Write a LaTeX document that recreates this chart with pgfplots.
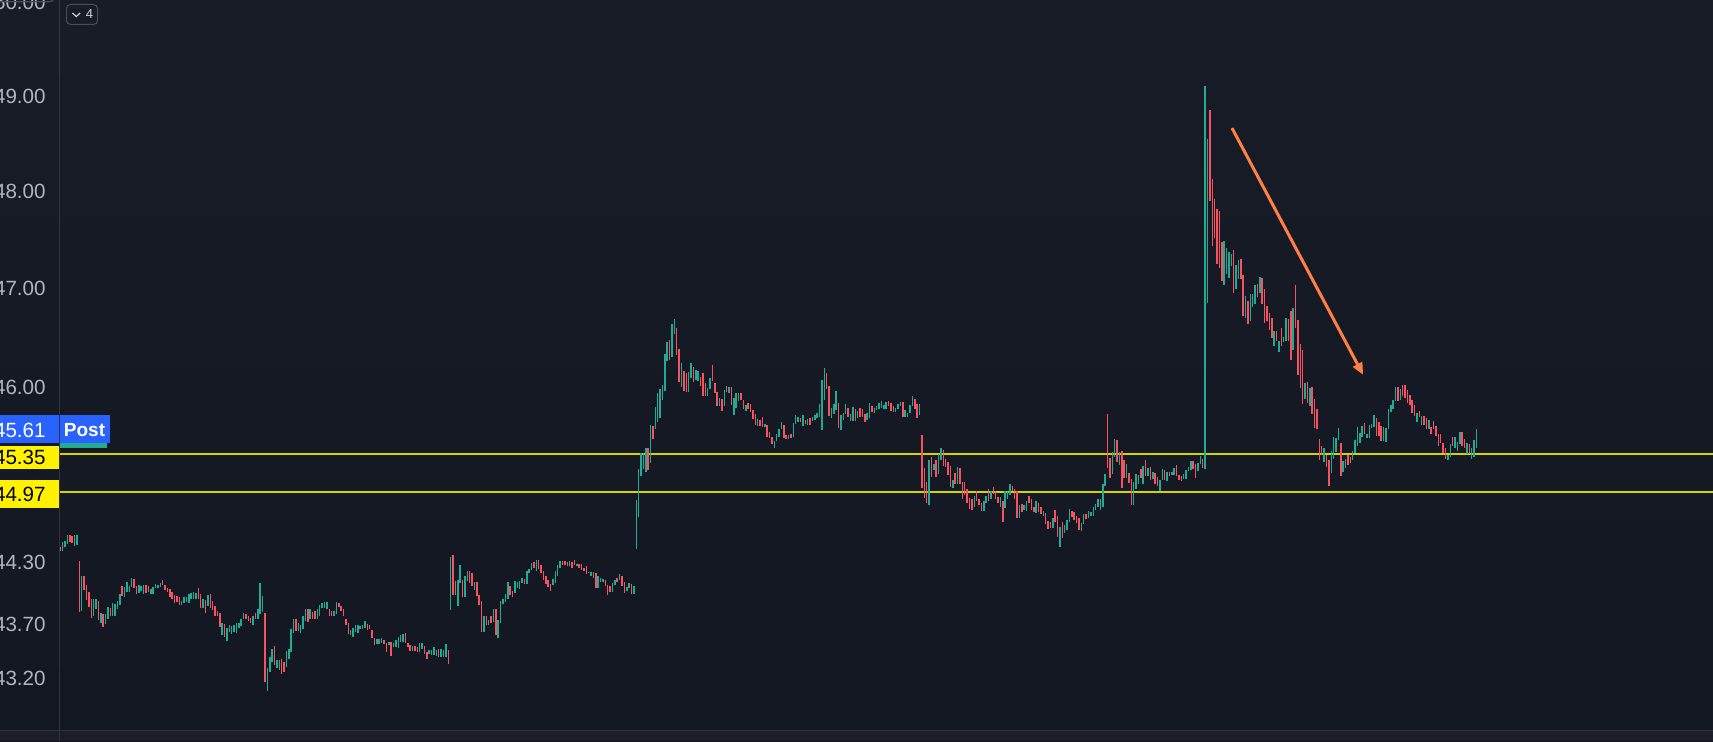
\documentclass[border=0pt]{standalone}
\usepackage{pgfplots}
\pgfplotsset{compat=1.18}
\usepackage{pgfplotstable}
\usepackage{fontspec}
\setmainfont{Liberation Sans}
\usetikzlibrary{arrows.meta}

\definecolor{bgtop}{HTML}{181C27}
\definecolor{bgbot}{HTML}{131722}
\definecolor{strip}{HTML}{1B1E29}
\definecolor{up}{HTML}{22AB94}
\definecolor{dn}{HTML}{F7525F}
\definecolor{axln}{HTML}{30343F}
\definecolor{axln2}{HTML}{4A4E59}
\definecolor{lbl}{HTML}{B2B5BE}
\definecolor{lbl2}{HTML}{D1D4DC}
\definecolor{lvl}{RGB}{212,212,0}
\definecolor{tvblue}{HTML}{2962FF}
\definecolor{arr}{HTML}{FF7F45}
\newcommand\lblfont{\fontsize{10.3}{12}\selectfont}

\pgfplotstableread{
i lo hi c
0 44.40 44.44 0
1 44.40 44.49 1
2 44.44 44.50 1
3 44.47 44.56 1
4 44.49 44.56 0
5 44.48 44.55 0
6 44.45 44.56 1
7 44.46 44.56 1
8 43.82 44.31 0
9 43.83 44.16 1
10 44.03 44.16 0
11 43.94 44.08 0
12 43.87 44.01 0
13 43.77 43.95 0
14 43.79 43.95 1
15 43.85 43.95 1
16 43.75 43.93 0
17 43.72 43.81 1
18 43.68 43.80 0
19 43.71 43.80 1
20 43.76 43.87 1
21 43.78 43.86 0
22 43.78 43.91 1
23 43.78 43.90 1
24 43.85 43.93 1
25 43.89 43.99 1
26 43.97 44.07 0
27 43.96 44.06 1
28 44.01 44.11 1
29 44.01 44.07 1
30 44.06 44.15 1
31 44.05 44.14 0
32 43.99 44.07 0
33 44.00 44.08 1
34 44.02 44.07 1
35 43.99 44.08 1
36 44.00 44.08 0
37 44.01 44.07 0
38 43.99 44.04 1
39 43.99 44.06 1
40 44.05 44.09 1
41 44.05 44.08 1
42 44.06 44.10 1
43 44.08 44.13 0
44 44.03 44.08 0
45 44.01 44.05 0
46 43.96 44.04 0
47 43.95 44.01 0
48 43.91 43.98 0
49 43.92 43.97 0
50 43.89 43.96 0
51 43.89 43.93 1
52 43.91 43.96 1
53 43.92 43.96 1
54 43.91 43.99 1
55 43.95 44.00 1
56 43.95 44.01 1
57 43.95 44.00 1
58 43.95 44.05 0
59 43.86 43.99 0
60 43.86 43.95 1
61 43.81 43.94 0
62 43.88 43.98 1
63 43.86 43.99 0
64 43.84 43.93 0
65 43.79 43.88 0
66 43.78 43.83 0
67 43.68 43.81 0
68 43.60 43.72 1
69 43.59 43.71 0
70 43.55 43.67 1
71 43.63 43.70 1
72 43.61 43.69 1
73 43.63 43.70 1
74 43.62 43.72 1
75 43.67 43.72 1
76 43.69 43.76 1
77 43.76 43.81 1
78 43.76 43.80 0
79 43.74 43.78 0
80 43.72 43.77 0
81 43.70 43.79 1
82 43.76 43.81 0
83 43.76 43.85 1
84 43.80 44.10 1
85 43.82 43.97 1
86 43.16 43.81 0
87 43.08 43.29 1
88 43.26 43.40 1
89 43.35 43.47 1
90 43.32 43.50 0
91 43.29 43.37 1
92 43.28 43.37 1
93 43.24 43.38 0
94 43.26 43.35 0
95 43.30 43.45 1
96 43.38 43.47 1
97 43.44 43.66 1
98 43.62 43.76 1
99 43.64 43.76 0
100 43.64 43.72 1
101 43.62 43.70 1
102 43.66 43.79 1
103 43.74 43.85 1
104 43.73 43.85 0
105 43.76 43.85 1
106 43.76 43.82 0
107 43.76 43.83 0
108 43.76 43.85 1
109 43.78 43.89 1
110 43.86 43.91 1
111 43.86 43.92 1
112 43.85 43.92 1
113 43.79 43.85 0
114 43.78 43.83 0
115 43.79 43.83 1
116 43.80 43.92 1
117 43.87 43.91 0
118 43.83 43.88 0
119 43.78 43.85 0
120 43.70 43.76 0
121 43.61 43.72 0
122 43.60 43.65 1
123 43.59 43.67 1
124 43.63 43.70 1
125 43.62 43.70 1
126 43.66 43.69 1
127 43.66 43.70 1
128 43.67 43.74 1
129 43.65 43.71 0
130 43.66 43.70 0
131 43.58 43.65 0
132 43.51 43.58 0
133 43.52 43.57 1
134 43.52 43.57 1
135 43.53 43.58 1
136 43.52 43.56 0
137 43.44 43.53 0
138 43.51 43.54 1
139 43.41 43.54 0
140 43.49 43.53 1
141 43.49 43.56 1
142 43.48 43.59 1
143 43.54 43.60 1
144 43.54 43.61 1
145 43.53 43.62 0
146 43.49 43.53 0
147 43.45 43.51 0
148 43.45 43.50 1
149 43.45 43.50 0
150 43.44 43.49 0
151 43.44 43.53 1
152 43.47 43.53 1
153 43.43 43.50 0
154 43.38 43.44 0
155 43.43 43.46 1
156 43.42 43.46 1
157 43.42 43.49 1
158 43.41 43.46 1
159 43.40 43.47 0
160 43.40 43.47 1
161 43.40 43.46 1
162 43.40 43.52 1
163 43.33 43.46 0
164 43.84 44.35 1
165 43.98 44.37 0
166 43.98 44.12 0
167 43.88 44.13 1
168 44.10 44.27 1
169 43.96 44.13 0
170 43.96 44.16 1
171 44.12 44.21 1
172 44.10 44.21 0
173 44.07 44.19 0
174 44.03 44.11 1
175 43.97 44.11 0
176 43.89 43.98 0
177 43.63 43.93 0
178 43.63 43.78 1
179 43.70 43.78 0
180 43.70 43.75 1
181 43.72 43.78 0
182 43.73 43.85 1
183 43.60 43.85 0
184 43.58 43.75 1
185 43.72 43.93 1
186 43.90 43.95 1
187 43.92 43.99 1
188 43.95 44.11 1
189 43.98 44.07 0
190 43.96 44.02 0
191 44.00 44.12 1
192 44.05 44.11 1
193 44.04 44.12 1
194 44.10 44.15 1
195 44.09 44.14 0
196 44.09 44.21 1
197 44.19 44.23 1
198 44.22 44.29 1
199 44.24 44.30 0
200 44.21 44.32 1
201 44.23 44.32 0
202 44.19 44.27 0
203 44.13 44.21 0
204 44.09 44.16 0
205 44.06 44.13 0
206 44.02 44.09 0
207 44.08 44.14 1
208 44.10 44.21 1
209 44.17 44.27 1
210 44.24 44.31 1
211 44.27 44.31 0
212 44.27 44.31 0
213 44.26 44.30 0
214 44.26 44.31 1
215 44.24 44.30 0
216 44.27 44.32 0
217 44.26 44.28 1
218 44.24 44.28 0
219 44.22 44.28 0
220 44.21 44.24 0
221 44.18 44.26 0
222 44.19 44.20 0
223 44.16 44.20 1
224 44.15 44.20 1
225 44.05 44.19 0
226 44.05 44.17 1
227 44.11 44.15 1
228 44.11 44.14 1
229 44.07 44.13 0
230 43.98 44.08 0
231 44.01 44.07 0
232 44.01 44.10 1
233 44.08 44.13 1
234 44.11 44.15 0
235 44.13 44.18 1
236 44.07 44.17 0
237 44.00 44.11 0
238 44.02 44.06 1
239 44.05 44.10 1
240 43.99 44.09 0
241 43.99 44.07 1
242 44.42 44.90 1
243 44.73 45.20 1
244 45.13 45.36 1
245 45.20 45.36 1
246 45.17 45.40 1
247 45.19 45.40 0
248 45.26 45.63 1
249 45.49 45.62 0
250 45.59 45.81 1
251 45.66 45.95 1
252 45.70 45.99 1
253 45.88 46.03 1
254 45.97 46.34 1
255 46.27 46.46 1
256 46.28 46.48 0
257 46.31 46.64 1
258 46.54 46.69 1
259 46.33 46.60 0
260 46.06 46.39 0
261 46.01 46.25 1
262 45.97 46.17 0
263 45.96 46.15 0
264 45.96 46.16 1
265 46.10 46.25 1
266 46.06 46.21 0
267 46.08 46.18 1
268 46.07 46.17 1
269 46.02 46.11 0
270 45.92 46.15 0
271 45.92 46.05 0
272 45.92 46.00 1
273 45.99 46.10 1
274 46.07 46.23 0
275 45.95 46.05 0
276 45.82 45.96 0
277 45.82 45.90 1
278 45.77 45.89 0
279 45.82 45.98 1
280 45.96 46.02 0
281 45.95 46.01 1
282 45.83 46.01 0
283 45.73 45.90 1
284 45.80 45.95 1
285 45.87 45.95 1
286 45.88 45.95 0
287 45.79 45.88 0
288 45.77 45.83 1
289 45.79 45.85 0
290 45.76 45.84 0
291 45.69 45.78 0
292 45.63 45.74 0
293 45.62 45.69 1
294 45.62 45.68 0
295 45.61 45.71 0
296 45.61 45.64 1
297 45.51 45.63 0
298 45.50 45.56 0
299 45.44 45.51 0
300 45.40 45.47 1
301 45.47 45.54 1
302 45.51 45.59 1
303 45.59 45.66 1
304 45.50 45.63 0
305 45.49 45.53 0
306 45.49 45.53 1
307 45.50 45.54 0
308 45.51 45.65 1
309 45.64 45.73 1
310 45.66 45.71 1
311 45.66 45.70 0
312 45.62 45.73 1
313 45.64 45.68 0
314 45.63 45.69 1
315 45.63 45.70 0
316 45.67 45.71 1
317 45.68 45.73 1
318 45.70 45.75 1
319 45.71 45.84 1
320 45.58 46.08 1
321 45.88 46.20 1
322 45.99 46.15 0
323 45.72 46.02 0
324 45.70 45.80 1
325 45.74 45.84 1
326 45.78 45.97 1
327 45.60 45.85 0
328 45.58 45.73 1
329 45.68 45.75 1
330 45.74 45.84 1
331 45.71 45.80 0
332 45.67 45.74 1
333 45.67 45.81 1
334 45.67 45.79 0
335 45.70 45.77 1
336 45.71 45.80 0
337 45.71 45.79 0
338 45.66 45.74 0
339 45.68 45.75 1
340 45.70 45.85 1
341 45.76 45.82 0
342 45.75 45.80 1
343 45.78 45.82 1
344 45.79 45.85 1
345 45.80 45.87 1
346 45.79 45.83 1
347 45.79 45.86 1
348 45.82 45.87 0
349 45.77 45.85 0
350 45.76 45.82 0
351 45.76 45.80 1
352 45.79 45.84 1
353 45.82 45.86 1
354 45.71 45.86 0
355 45.71 45.78 1
356 45.71 45.75 1
357 45.75 45.83 1
358 45.82 45.92 1
359 45.79 45.89 0
360 45.70 45.84 0
361 45.73 45.84 1
362 45.01 45.53 0
363 44.92 45.21 0
364 44.87 45.07 0
365 44.85 45.29 1
366 45.12 45.32 0
367 45.19 45.25 1
368 45.12 45.29 0
369 45.15 45.35 1
370 45.29 45.40 1
371 45.23 45.39 0
372 45.22 45.30 0
373 45.14 45.27 0
374 45.02 45.23 0
375 45.01 45.09 1
376 45.05 45.16 0
377 45.05 45.22 1
378 45.05 45.21 0
379 44.91 45.07 0
380 44.95 45.07 0
381 44.87 45.00 0
382 44.81 44.92 0
383 44.80 44.91 0
384 44.83 44.94 1
385 44.89 44.98 0
386 44.85 44.91 0
387 44.79 44.87 0
388 44.79 44.89 1
389 44.87 44.94 1
390 44.89 45.00 0
391 44.91 44.98 1
392 44.96 45.02 0
393 44.91 44.98 0
394 44.87 44.93 0
395 44.83 44.93 1
396 44.68 44.89 0
397 44.82 44.98 1
398 44.91 44.98 1
399 44.95 45.05 1
400 44.98 45.03 0
401 44.91 45.00 0
402 44.72 44.99 0
403 44.72 44.85 1
404 44.78 44.86 0
405 44.80 44.85 1
406 44.79 44.89 1
407 44.87 44.94 0
408 44.80 44.91 0
409 44.78 44.83 0
410 44.77 44.89 1
411 44.78 44.87 0
412 44.76 44.83 0
413 44.74 44.79 1
414 44.66 44.77 0
415 44.62 44.69 0
416 44.63 44.68 0
417 44.63 44.72 1
418 44.68 44.80 0
419 44.54 44.74 0
420 44.44 44.64 1
421 44.53 44.68 0
422 44.58 44.65 1
423 44.61 44.70 1
424 44.68 44.81 1
425 44.73 44.79 0
426 44.70 44.78 0
427 44.67 44.74 0
428 44.61 44.72 0
429 44.60 44.67 1
430 44.66 44.76 1
431 44.71 44.76 0
432 44.72 44.79 1
433 44.74 44.78 1
434 44.74 44.83 1
435 44.80 44.86 1
436 44.83 44.91 1
437 44.80 44.91 1
438 44.83 45.05 1
439 45.03 45.15 1
440 45.21 45.74 0
441 45.11 45.31 0
442 45.15 45.37 1
443 45.32 45.49 1
444 45.27 45.48 0
445 45.24 45.37 1
446 45.01 45.38 0
447 45.11 45.29 0
448 45.11 45.25 1
449 45.06 45.16 0
450 44.85 45.10 0
451 44.85 45.07 1
452 45.00 45.15 1
453 45.05 45.14 1
454 45.11 45.20 0
455 45.05 45.23 1
456 45.13 45.29 0
457 45.13 45.21 1
458 45.09 45.22 0
459 45.10 45.17 1
460 45.05 45.16 0
461 45.03 45.12 0
462 44.99 45.09 1
463 45.09 45.20 1
464 45.09 45.19 0
465 45.08 45.17 1
466 45.13 45.17 0
467 45.14 45.17 1
468 45.14 45.21 1
469 45.13 45.24 0
470 45.09 45.14 0
471 45.08 45.13 0
472 45.10 45.15 1
473 45.10 45.19 1
474 45.18 45.22 1
475 45.19 45.28 1
476 45.20 45.28 0
477 45.11 45.25 0
478 45.18 45.26 1
479 45.25 45.33 1
480 45.21 45.30 0
481 45.20 49.11 1
482 46.85 48.54 1
483 47.90 48.85 0
484 47.43 48.13 0
485 47.52 47.92 0
486 47.25 47.82 0
487 47.21 47.79 0
488 47.08 47.47 0
489 47.03 47.49 1
490 47.15 47.41 1
491 47.11 47.37 1
492 47.23 47.35 1
493 46.95 47.39 0
494 46.99 47.24 1
495 47.10 47.29 1
496 47.10 47.30 0
497 46.72 47.14 0
498 46.70 46.92 1
499 46.64 46.87 0
500 46.67 46.94 1
501 46.81 46.94 1
502 46.84 47.03 1
503 46.91 47.05 0
504 46.95 47.12 1
505 46.84 47.11 0
506 46.65 46.99 0
507 46.67 46.82 0
508 46.58 46.75 0
509 46.50 46.70 0
510 46.42 46.57 1
511 46.47 46.57 0
512 46.36 46.47 1
513 46.42 46.60 0
514 46.46 46.51 1
515 46.47 46.70 1
516 46.47 46.69 0
517 46.28 46.77 0
518 46.38 46.80 1
519 46.60 47.04 0
520 46.13 46.68 0
521 46.00 46.44 0
522 45.84 46.38 0
523 45.89 46.05 1
524 45.85 46.06 0
525 45.82 46.00 1
526 45.74 46.01 0
527 45.60 45.89 0
528 45.59 45.79 0
529 45.29 45.49 0
530 45.34 45.43 0
531 45.27 45.41 1
532 45.22 45.34 0
533 45.03 45.29 0
534 45.16 45.38 1
535 45.30 45.51 1
536 45.37 45.50 1
537 45.48 45.60 1
538 45.13 45.45 0
539 45.17 45.28 1
540 45.21 45.30 1
541 45.24 45.34 0
542 45.26 45.32 0
543 45.29 45.38 1
544 45.36 45.48 1
545 45.43 45.61 1
546 45.45 45.55 1
547 45.51 45.62 1
548 45.54 45.65 0
549 45.50 45.54 1
550 45.50 45.63 1
551 45.60 45.64 1
552 45.61 45.73 1
553 45.52 45.70 0
554 45.52 45.66 0
555 45.47 45.62 0
556 45.47 45.61 1
557 45.46 45.60 1
558 45.59 45.79 1
559 45.76 45.83 1
560 45.79 45.88 1
561 45.87 46.01 1
562 45.87 46.01 0
563 45.88 45.99 1
564 45.92 46.03 0
565 45.90 46.03 0
566 45.85 45.98 0
567 45.83 45.93 0
568 45.75 45.88 0
569 45.72 45.83 0
570 45.66 45.75 1
571 45.71 45.77 0
572 45.63 45.72 1
573 45.63 45.72 0
574 45.59 45.70 0
575 45.59 45.68 1
576 45.54 45.61 0
577 45.59 45.67 0
578 45.52 45.62 0
579 45.43 45.54 0
580 45.45 45.54 0
581 45.36 45.45 0
582 45.30 45.40 0
583 45.29 45.34 1
584 45.32 45.44 1
585 45.43 45.51 0
586 45.41 45.51 1
587 45.38 45.46 1
588 45.44 45.56 1
589 45.42 45.56 0
590 45.41 45.49 0
591 45.35 45.45 1
592 45.35 45.44 0
593 45.30 45.40 1
594 45.32 45.48 1
595 45.41 45.59 1
}\candles

\begin{document}
\begin{tikzpicture}
\begin{scope}[x=0.5pt,y=0.5pt]
\shade[top color=bgtop,bottom color=bgbot] (0,0) rectangle (1713,741);
\fill[strip] (0,0) rectangle (1713,11);
\end{scope}
\begin{axis}[
  at={(29.5pt,5.5pt)}, anchor=south west,
  scale only axis, width=827pt, height=365pt,
  xmin=-0.55, xmax=694.4,
  ymode=log, ymin=42.72, ymax=50.03,
  axis line style={draw=none},
  xtick=\empty,
  major tick length=0pt,
  ytick={43.2,43.7,44.3,46,47,48,49,50},
  yticklabels={43.20,43.70,44.30,46.00,47.00,48.00,49.00,50.00},
  yticklabel style={font=\lblfont, text=lbl, anchor=east, inner sep=0pt, xshift=-6.5pt},
]
\draw[lvl, line width=1pt] (axis cs:-5,45.35) -- (axis cs:700,45.35);
\draw[lvl, line width=1pt] (axis cs:-5,44.97) -- (axis cs:700,44.97);
\addplot[draw=none, mark=none, forget plot,
  restrict expr to domain={\thisrow{c}}{0.5:1.5},
  error bars/.cd, y dir=plus, y explicit, error mark=none,
  error bar style={draw=up, line width=0.75pt}]
  table[x=i, y=lo, y error expr=\thisrow{hi}-\thisrow{lo}] {\candles};
\addplot[draw=none, mark=none, forget plot,
  restrict expr to domain={\thisrow{c}}{-0.5:0.5},
  error bars/.cd, y dir=plus, y explicit, error mark=none,
  error bar style={draw=dn, line width=0.75pt}]
  table[x=i, y=lo, y error expr=\thisrow{hi}-\thisrow{lo}] {\candles};
\draw[arr, line width=1.5pt, -{Triangle[length=6pt,width=5pt]}]
  (axis cs:492.3,48.66) -- (axis cs:547.4,46.13);
\end{axis}
\begin{scope}[x=0.5pt,y=0.5pt]
\fill[tvblue] (0,297.7) rectangle (59,326);
\node[anchor=east, inner sep=0pt, text=white, font=\lblfont] at (46,311) {45.61};
\fill[tvblue] (59,297.7) rectangle (110,326);
\fill[up] (59,293.3) rectangle (107,297.7);
\node[inner sep=0pt, text=white, font=\fontsize{9.5}{11}\selectfont\bfseries] at (84.5,311) {Post};
\fill[yellow] (0,271.7) rectangle (59,295.3);
\node[anchor=east, inner sep=0pt, text=black, font=\lblfont] at (46,284) {45.35};
\fill[yellow] (0,232.7) rectangle (59,261);
\node[anchor=east, inner sep=0pt, text=black, font=\lblfont] at (46,246.5) {44.97};
\draw[axln, line width=0.5pt] (59,0) -- (59,741);
\draw[axln, line width=0.5pt] (0,11) -- (1713,11);
\draw[axln2, rounded corners=2pt, line width=0.5pt] (66.5,716.5) rectangle (97.5,736.5);
\draw[lbl2, line width=0.6pt] (72.5,728) -- (76.3,724.5) -- (80.1,728);
\node[inner sep=0pt, text=lbl2, font=\fontsize{6.5}{7}\selectfont] at (89.5,726.5) {4};
\draw[axln2, line width=0.6pt, rounded corners=2pt] (-5,739.3) -- (54,739.3) -- (54,745);
\end{scope}
\pgfresetboundingbox
\path[use as bounding box] (0,0) rectangle (856.5pt,370.5pt);
\end{tikzpicture}
\end{document}
